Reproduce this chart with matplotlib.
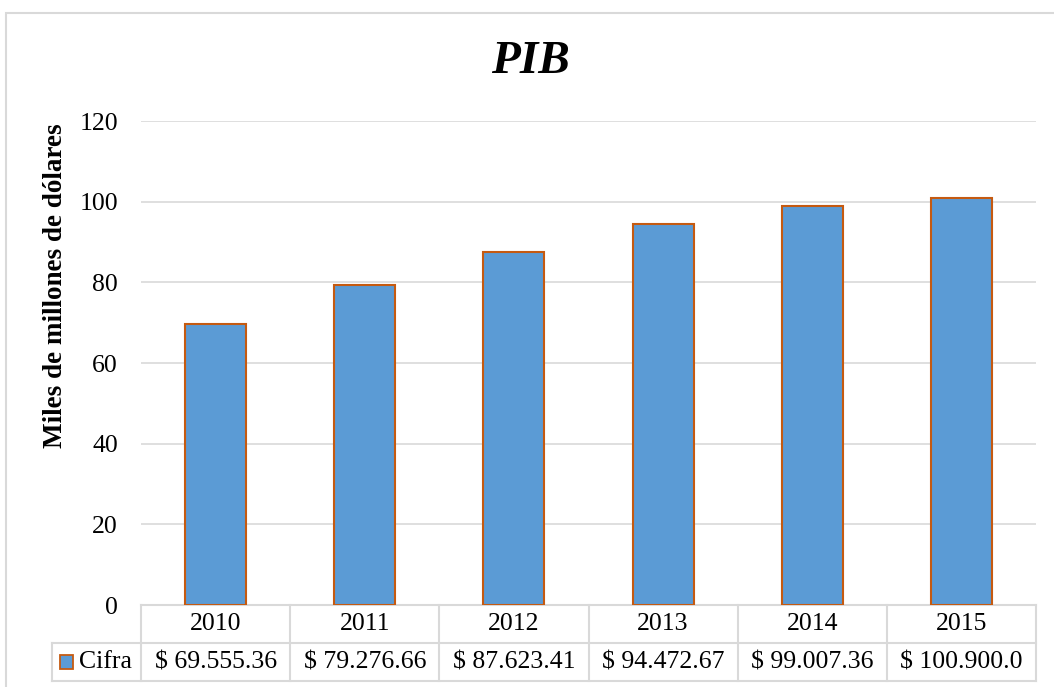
import matplotlib

matplotlib.use("Agg")
import matplotlib.pyplot as plt
from matplotlib.patches import Rectangle

years = ["2010", "2011", "2012", "2013", "2014", "2015"]
pib = [69.55536, 79.27666, 87.62341, 94.47267, 99.00736, 100.9]
table_labels = ["$ 69.555.36", "$ 79.276.66", "$ 87.623.41",
                "$ 94.472.67", "$ 99.007.36", "$ 100.900.0"]
series_name = "Cifra"
y_ticks = [0, 20, 40, 60, 80, 100, 120]

BAR = "#5B9BD5"
EDGE = "#C55A11"
GRID = "#D9D9D9"
FS = 18.5

plt.rcParams["font.family"] = ["Liberation Serif", "DejaVu Serif"]

W, H = 1054, 687
fig = plt.figure(figsize=(W / 100, H / 100), dpi=100)

# outer chart border (runs off right and bottom edges)
fig.patches.append(Rectangle((6 / W, -0.1), 1.2, 1 - 13 / H + 0.1, transform=fig.transFigure,
                             fill=False, edgecolor=GRID, linewidth=1.5))

left, right, top, bottom = 141, 1036, 121, 605
ax = fig.add_axes([left / W, 1 - bottom / H, (right - left) / W, (bottom - top) / H])

x = range(len(years))
ax.bar(x, pib, width=0.41, color=BAR, edgecolor=EDGE, linewidth=1.5, zorder=3)
ax.set_xlim(-0.5, len(years) - 0.5)
ax.set_ylim(0, 120)
ax.set_yticks(y_ticks)
ax.set_yticklabels([str(t) for t in y_ticks], fontsize=FS)
ax.tick_params(axis="y", length=0, pad=16.5)
ax.set_xticks([])
ax.yaxis.grid(True, color=GRID, linewidth=1.2, zorder=0)
for s in ax.spines.values():
    s.set_visible(False)

fig.text(56 / W, 1 - 286 / H, "Miles de millones de dólares", rotation=90, ha="center",
         va="center", fontsize=19.5, fontweight="bold")
fig.text(530 / W, 1 - 62 / H, "PIB", ha="center", va="center", fontsize=34,
         fontweight="bold", fontstyle="italic")

# data table below the axes
row1, row2 = -38 / (bottom - top), -76 / (bottom - top)
px = len(years) / (right - left)
leg_left = (52 - left) * px - 0.5
tr = ax.get_xaxis_transform()
line_kw = dict(color=GRID, linewidth=1.5, clip_on=False, transform=tr)
ax.plot([-0.5, len(years) - 0.5], [0, 0], **line_kw)
ax.plot([leg_left, len(years) - 0.5], [row1, row1], **line_kw)
ax.plot([leg_left, len(years) - 0.5], [row2, row2], **line_kw)
ax.plot([leg_left, leg_left], [row1, row2], **line_kw)
for i in range(len(years) + 1):
    ax.plot([i - 0.5, i - 0.5], [0, row2], **line_kw)
for i, (yr, lab) in enumerate(zip(years, table_labels)):
    ax.text(i, row1 / 2, yr, ha="center", va="center", fontsize=FS, transform=tr)
    ax.text(i, (row1 + row2) / 2, lab, ha="center", va="center", fontsize=FS, transform=tr)

# legend key in the table
mid = (row1 + row2) / 2
ax.add_patch(Rectangle((leg_left + 8 * px, mid - 7 / (bottom - top)), 13 * px, 14 / (bottom - top),
                       transform=tr, facecolor=BAR, edgecolor=EDGE, linewidth=1.3, clip_on=False))
ax.text(leg_left + 27 * px, mid, series_name, ha="left", va="center", fontsize=FS, transform=tr)

fig.savefig("out.png", dpi=100)
